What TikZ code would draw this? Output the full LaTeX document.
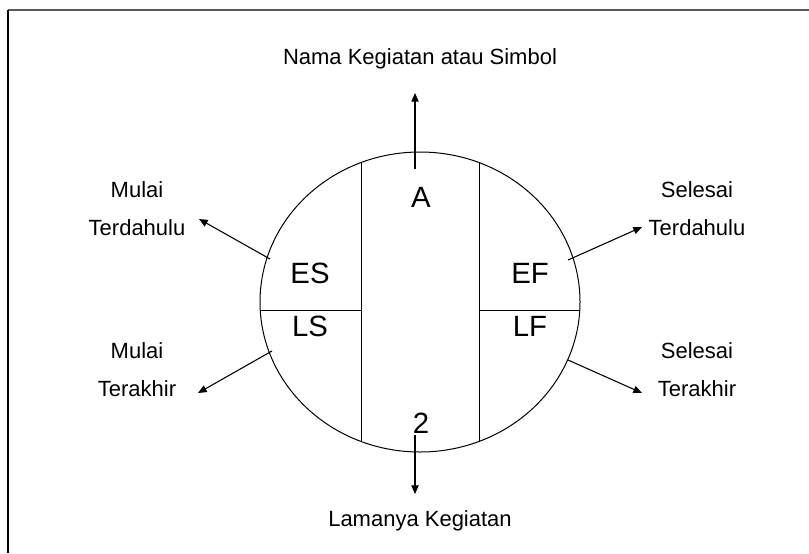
\documentclass[tikz,border=0pt]{standalone}
\usepackage{fontspec}
\setmainfont{Liberation Sans}
\usetikzlibrary{arrows.meta}
\begin{document}
\begin{tikzpicture}[x=0.75pt,y=-0.75pt,
  outline/.style={line width=0.75pt},
  pointer/.style={line width=0.8pt,-{Triangle[length=6.5pt,width=5.5pt]}},
  caption/.style={font=\fontsize{16.5}{28.5}\selectfont,inner sep=0pt},
  cell/.style={font=\fontsize{22}{26}\selectfont,inner sep=0pt}]
\useasboundingbox (0,0) rectangle (809,553);
% frame edges
\draw[line width=1.6pt,gray!70!black] (8,10) -- (809,10);
\draw[line width=1.2pt] (8,10) -- (8,553);
% activity circle and its partitions
\draw[outline] (420,302) ellipse [x radius=160, y radius=150];
\draw[outline] (361,163) -- (361,441);
\draw[outline] (479,163) -- (479,441);
\draw[outline] (261,310) -- (361,310);
\draw[outline] (479,310) -- (580,310);
% cell labels
\node[cell] (a) at (421,197) {A};
\node[cell] (es) at (310,273) {ES};
\node[cell] (ef) at (530,273) {EF};
\node[cell] (ls) at (310,326) {LS};
\node[cell] (lf) at (530,326) {LF};
\node[cell] (d) at (421,423) {2};
% outer captions
\node[caption] (name) at (420,59) {Nama Kegiatan atau Simbol};
\node[caption] (dur) at (420,521) {Lamanya Kegiatan};
\node[caption,align=center] (ms) at (137,209) {Mulai\\Terdahulu};
\node[caption,align=center] (sf) at (697,209) {Selesai\\Terdahulu};
\node[caption,align=center] (ml) at (137,370) {Mulai\\Terakhir};
\node[caption,align=center] (sl) at (697,370) {Selesai\\Terakhir};
% arrow anchor points
\coordinate (top0) at (415,169);
\coordinate (top1) at (415,93);
\coordinate (bot0) at (415,435);
\coordinate (bot1) at (415,494);
\coordinate (tl0) at (270,259);
\coordinate (tl1) at (199,219);
\coordinate (tr0) at (568,260);
\coordinate (tr1) at (642,227);
\coordinate (bl0) at (272,351);
\coordinate (bl1) at (198,393);
\coordinate (br0) at (568,360);
\coordinate (br1) at (642,393);
% arrows
\draw[pointer] (top0) -- (top1);
\draw[pointer] (bot0) -- (bot1);
\draw[pointer] (tl0) -- (tl1);
\draw[pointer] (tr0) -- (tr1);
\draw[pointer] (bl0) -- (bl1);
\draw[pointer] (br0) -- (br1);
\end{tikzpicture}
\end{document}
